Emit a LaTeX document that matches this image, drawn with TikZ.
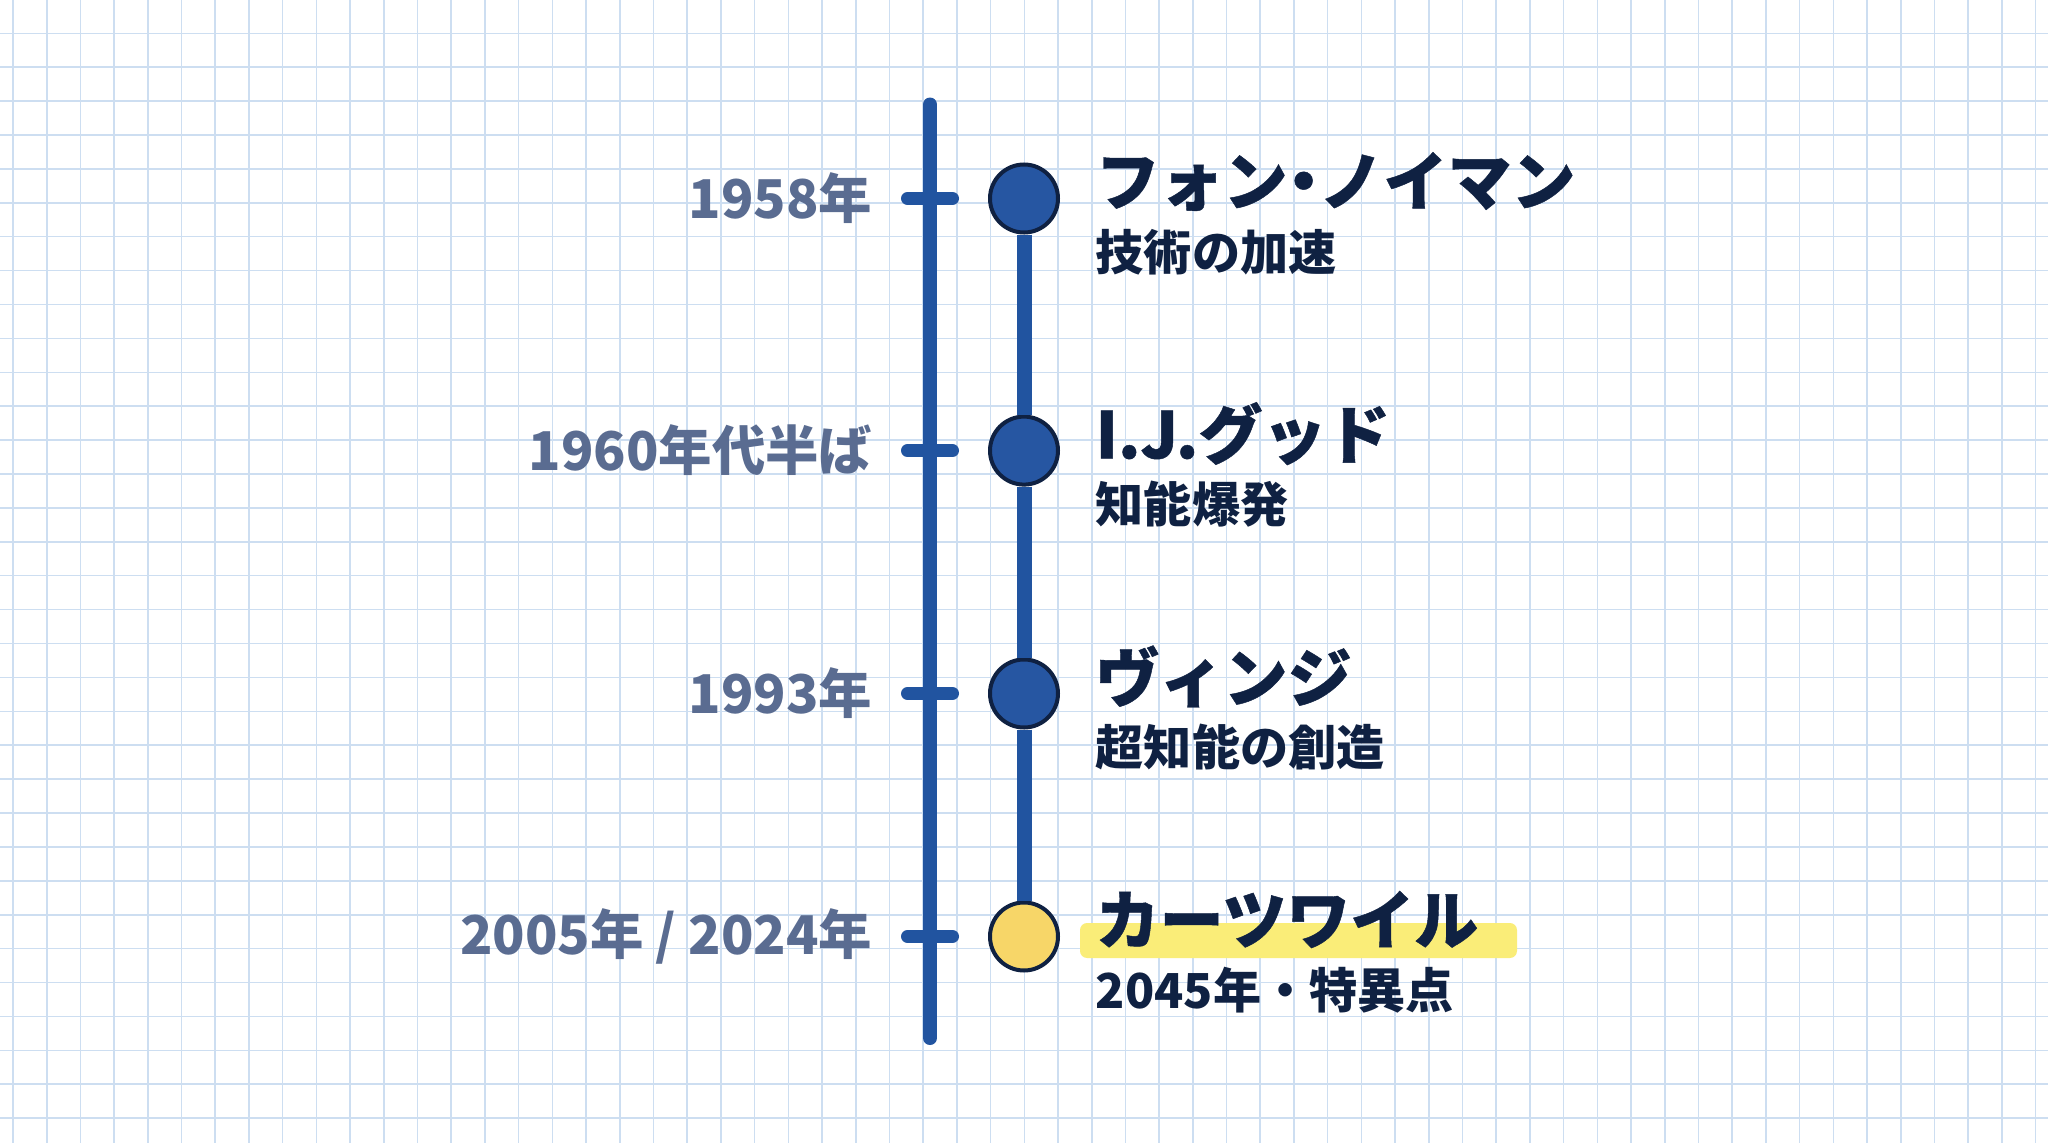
\documentclass[tikz,border=0pt]{standalone}
\usepackage{fontspec}
\setmainfont{Noto Sans CJK JP}
\newfontfamily\heavyfont{Noto Sans CJK JP}[FakeBold=0.7]
\usetikzlibrary{positioning}
\definecolor{gridblue}{RGB}{205,222,241}
\definecolor{lineblue}{RGB}{33,84,160}
\definecolor{dotblue}{RGB}{38,86,162}
\definecolor{navy}{RGB}{15,33,66}
\definecolor{slate}{RGB}{90,108,145}
\definecolor{dotyellow}{RGB}{247,214,104}
\definecolor{markeryellow}{RGB}{250,237,120}
\newcommand{\tightdot}{\kern-0.25em・\kern-0.25em}
\tikzset{
  gridline/.style={draw=gridblue, line width=0.45pt},
  axis/.style={draw=lineblue, line width=0.14cm, line cap=round},
  tickmark/.style={draw=lineblue, line width=0.13cm, line cap=round},
  stem/.style={draw=lineblue, line width=0.15cm},
  dot/.style={
    circle,
    draw=navy,
    fill=dotblue,
    line width=0.04cm,
    minimum size=0.68cm,
    inner sep=0pt
  },
  yearlabel/.style={text=slate, font=\bfseries\fontsize{15.2}{18}\selectfont, inner sep=0pt},
  headline/.style={text=navy, font=\heavyfont\bfseries\fontsize{18.2}{21}\selectfont, inner sep=0pt},
  subline/.style={text=navy, font=\bfseries\fontsize{13.7}{16}\selectfont, inner sep=0pt, anchor=west},
  hilite/.style={fill=markeryellow, rounded corners=2pt}
}
\begin{document}
\begin{tikzpicture}
\useasboundingbox (0,0) rectangle (20.48,-11.43);
\fill[white] (0,0) rectangle (20.48,-11.43);

% Grid paper
\foreach \i in {0,...,60}
  \draw[gridline] ({0.13+0.3371*\i},0) -- ++(0,-11.43);
\foreach \j in {0,...,32}
  \draw[gridline] (0,{-0.333-0.339*\j}) -- ++(20.48,0);

% Axis
\coordinate (top) at (9.30,-1.045);
\coordinate (bot) at (9.30,-10.38);
\draw[axis] (top) -- (bot);

\coordinate (t1) at (9.30,-1.985);
\coordinate (t2) at (9.30,-4.506);
\coordinate (t3) at (9.30,-6.935);
\coordinate (t4) at (9.30,-9.365);

% Marker stroke under the last name
\fill[hilite] ([shift={(1.50,0.135)}]t4) rectangle ([shift={(5.87,-0.215)}]t4);

% Ticks and dates
\foreach \t/\yr in {t1/1958年, t2/1960年代半ば, t3/1993年, t4/{2005年 / 2024年}} {
  \draw[tickmark] ([xshift=-0.225cm]\t) -- ([xshift=0.225cm]\t);
  \node[yearlabel, left=0.57cm of \t] (y\t) {\yr};
}

% Dots
\node[dot] (d1) at ([xshift=0.94cm]t1) {};
\node[dot] (d2) at ([xshift=0.94cm]t2) {};
\node[dot] (d3) at ([xshift=0.94cm]t3) {};
\node[dot, fill=dotyellow] (d4) at ([xshift=0.94cm]t4) {};

\foreach \a/\b in {d1/d2, d2/d3, d3/d4}
  \draw[stem] (\a) -- (\b);

% Names and notes
\foreach \d/\name/\note in {d1/{フォン\tightdot ノイマン}/技術の加速, d2/I.J.グッド/知能爆発,
    d3/ヴィンジ/超知能の創造, d4/カーツワイル/2045年・特異点} {
  \node[headline, right=0.35cm of \d, yshift=0.17cm] (n\d) {\name};
  \node[subline] (s\d) at ([yshift=-0.71cm]n\d.west) {\note};
}

\end{tikzpicture}
\end{document}
